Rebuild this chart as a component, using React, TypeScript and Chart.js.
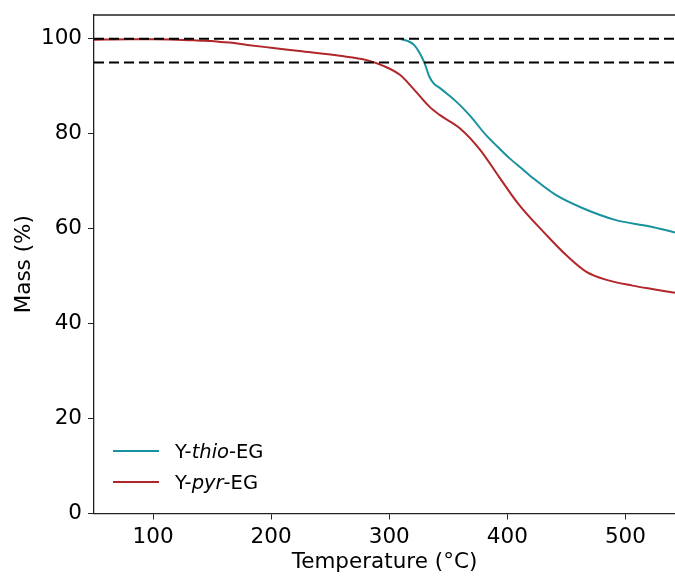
import React, { useEffect, useRef } from "react";
import { Chart, registerables } from "chart.js";

Chart.register(...registerables);

const pyrTemp = [50, 80, 100, 120, 140, 150, 157, 165, 180, 200, 224, 258, 281, 295, 309, 320, 334, 343, 360, 377, 393, 410, 433, 450, 467, 484, 506, 525, 542];
const pyrMass = [99.8, 99.9, 99.9, 99.8, 99.6, 99.5, 99.3, 99.2, 98.7, 98.1, 97.4, 96.4, 95.5, 94.3, 92.4, 89.6, 85.7, 83.9, 81.1, 76.6, 70.9, 65.0, 58.7, 54.4, 50.9, 49.2, 48.0, 47.2, 46.5];

const thioTemp = [310, 316, 321, 326, 330, 334, 338, 343, 350, 357, 368, 382, 392, 402, 412, 422, 441, 464, 492, 520, 542];
const thioMass = [99.9, 99.5, 98.7, 96.9, 94.8, 92.0, 90.5, 89.6, 88.2, 86.7, 83.9, 79.7, 77.2, 74.8, 72.7, 70.6, 67.1, 64.3, 61.8, 60.5, 59.2];

const refTemp = [50, 542];
const ref100 = [100, 100];
const ref95 = [95, 95];

const xTicks = [100, 200, 300, 400, 500];
const yTicks = [0, 20, 40, 60, 80, 100];

const seriesNames = ["Y-thio-EG", "Y-pyr-EG"];
const TEAL = "#17929e";
const RED = "#b2262a";
const FONT = "'DejaVu Sans', sans-serif";
const FS = 21.5;

const zip = (xs: number[], ys: number[]) => xs.map((x, i) => ({ x, y: ys[i] }));

const topBorder = {
  id: "topBorder",
  afterDraw(chart: any) {
    const { ctx, chartArea } = chart;
    ctx.save();
    ctx.strokeStyle = "#222";
    ctx.lineWidth = 1.3;
    ctx.beginPath();
    ctx.moveTo(chartArea.left, chartArea.top);
    ctx.lineTo(chartArea.right, chartArea.top);
    ctx.stroke();
    ctx.restore();
  },
};

export default function App() {
  const ref = useRef<HTMLCanvasElement | null>(null);

  useEffect(() => {
    if (!ref.current) return;
    const chart = new Chart(ref.current, {
      type: "line",
      data: {
        datasets: [
          {
            label: "100%",
            data: zip(refTemp, ref100),
            borderColor: "#000",
            borderWidth: 2,
            borderDash: [10, 5],
            pointRadius: 0,
            order: 0,
          },
          {
            label: "95%",
            data: zip(refTemp, ref95),
            borderColor: "#000",
            borderWidth: 2,
            borderDash: [10, 5],
            pointRadius: 0,
            order: 0,
          },
          {
            label: seriesNames[0],
            data: zip(thioTemp, thioMass),
            borderColor: TEAL,
            borderWidth: 2,
            pointRadius: 0,
            cubicInterpolationMode: "monotone",
            order: 1,
          },
          {
            label: seriesNames[1],
            data: zip(pyrTemp, pyrMass),
            borderColor: RED,
            borderWidth: 2,
            pointRadius: 0,
            cubicInterpolationMode: "monotone",
            order: 2,
          },
        ],
      },
      options: {
        animation: false,
        responsive: false,
        maintainAspectRatio: false,
        layout: { padding: { top: 15, left: 0, right: 0, bottom: 0 } },
        plugins: { legend: { display: false }, tooltip: { enabled: false } },
        scales: {
          x: {
            type: "linear",
            min: 50,
            max: 542,
            afterFit: (s: any) => {
              s.height = 62.5;
              s.paddingLeft = 0;
              s.paddingRight = 0;
            },
            afterBuildTicks: (s: any) => {
              s.ticks = xTicks.map((v) => ({ value: v }));
            },
            ticks: {
              color: "#000",
              font: { family: FONT, size: FS },
              padding: 5,
              maxRotation: 0,
              autoSkip: false,
            },
            grid: {
              drawOnChartArea: false,
              drawTicks: true,
              tickLength: 6,
              color: "#222",
              lineWidth: 1,
            },
            border: { display: true, color: "#222", width: 1.3 },
            title: {
              display: true,
              text: "Temperature (°C)",
              color: "#000",
              font: { family: FONT, size: FS },
              padding: { top: 0, bottom: 1 },
            },
          },
          y: {
            type: "linear",
            min: 0,
            max: 105,
            afterFit: (s: any) => {
              s.width = 94;
              s.paddingTop = 0;
              s.paddingBottom = 0;
            },
            afterBuildTicks: (s: any) => {
              s.ticks = yTicks.map((v) => ({ value: v }));
            },
            ticks: {
              color: "#000",
              font: { family: FONT, size: FS },
              padding: 6,
              autoSkip: false,
            },
            grid: {
              drawOnChartArea: false,
              drawTicks: true,
              tickLength: 6,
              color: "#222",
              lineWidth: 1,
            },
            border: { display: true, color: "#222", width: 1.3 },
            title: {
              display: true,
              text: "Mass (%)",
              color: "#000",
              font: { family: FONT, size: FS },
              padding: { top: 12, bottom: 0 },
            },
          },
        },
      },
      plugins: [topBorder],
    } as any);
    return () => chart.destroy();
  }, []);

  const legendRow = (color: string, pre: string, it: string, post: string, top: number) => (
    <div
      style={{
        position: "absolute",
        left: 113,
        top: top - 12,
        height: 24,
        display: "flex",
        alignItems: "center",
        fontFamily: FONT,
        fontSize: 19.5,
        color: "#000",
        whiteSpace: "nowrap",
      }}
    >
      <span style={{ display: "inline-block", width: 46, height: 2.5, background: color, marginRight: 16 }} />
      <span>
        {pre}
        <i>{it}</i>
        {post}
      </span>
    </div>
  );

  return (
    <div style={{ position: "fixed", left: 0, top: 0, width: 675, height: 576, background: "#fff" }}>
      <canvas ref={ref} width={675} height={576} style={{ display: "block" }} />
      {legendRow(TEAL, "Y-", "thio", "-EG", 451)}
      {legendRow(RED, "Y-", "pyr", "-EG", 482)}
    </div>
  );
}
